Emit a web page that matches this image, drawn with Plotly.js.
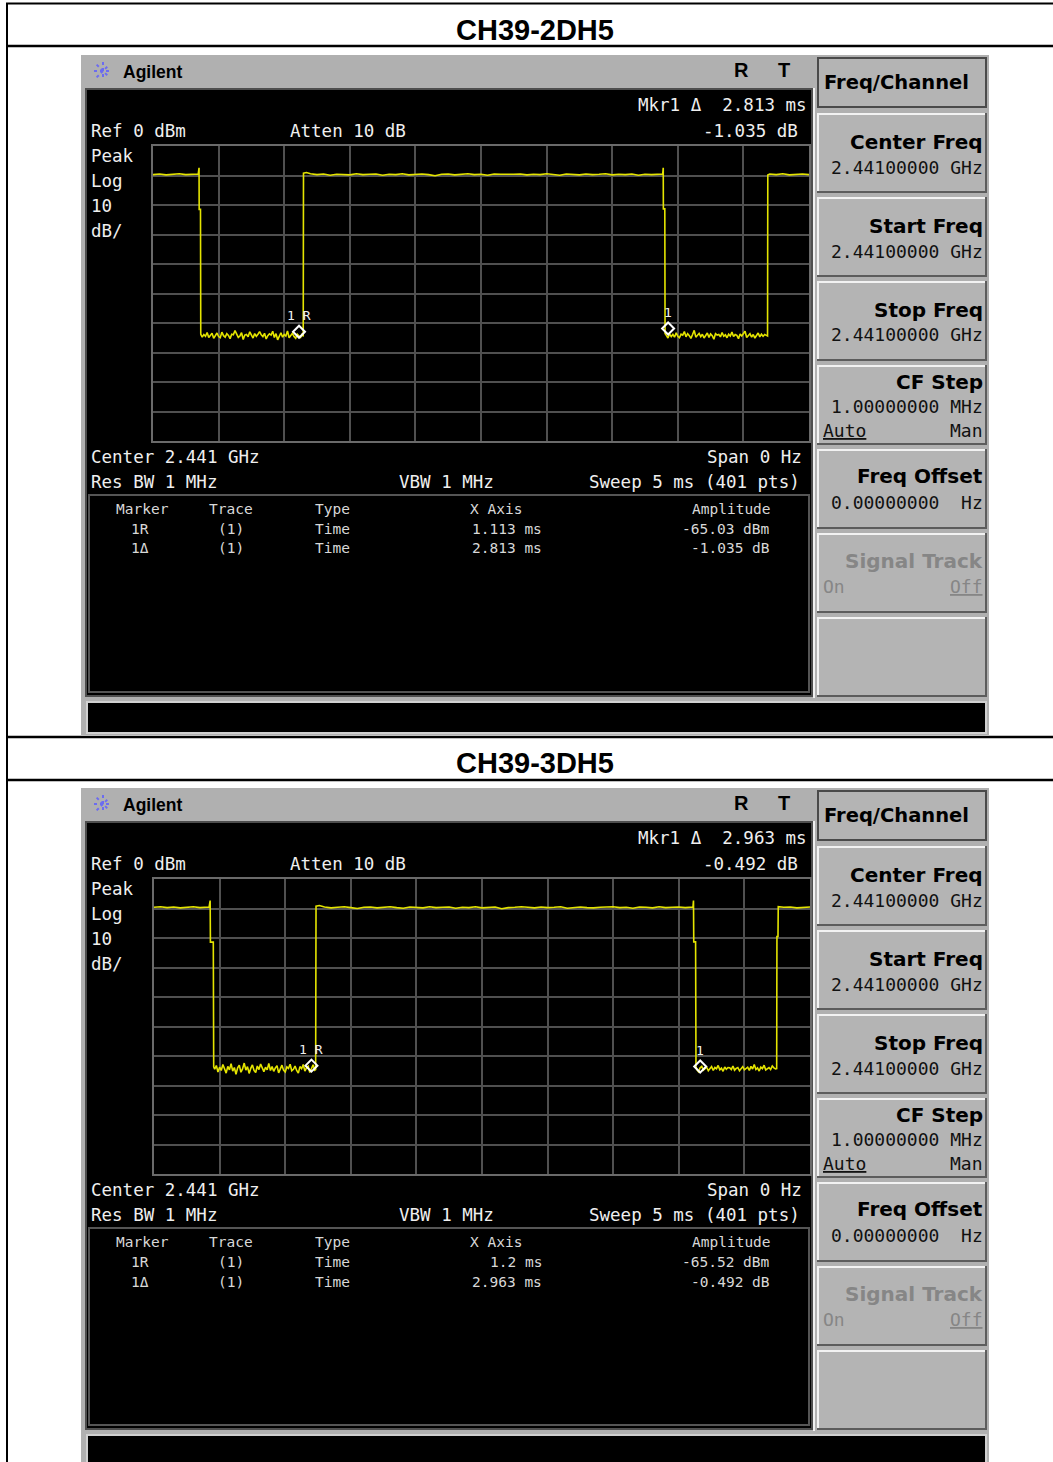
<!DOCTYPE html>
<html><head><meta charset="utf-8">
<script src="https://cdn.plot.ly/plotly-3.0.1.min.js"></script>
<style>html,body{margin:0;padding:0;background:#fff;}#chart{width:1053px;height:1462px;}</style>
</head><body><div id="chart"></div>
<script>
// ================= DATA =================
const titles = ['CH39-2DH5', 'CH39-3DH5'];
const xRangeMs = [0, 5];          // zero span, sweep 5 ms
const yRangeDbm = [-100, 0];      // ref 0 dBm, 10 dB/div
const xDtick = 0.5, yDtick = 10;

// ---- CH39-2DH5 trace: segments [start ms, end ms, step ms] + levels read (dBm)
const seg2 = [[0, 0.30, 0.05], [0.375, 1.1375, 0.0125], [1.2, 3.85, 0.05], [3.9125, 4.675, 0.0125], [4.70, 5.0, 0.05]];
const hi1_2 = [-9.7,-9.5,-9.8,-9.6,-9.4,-9.7,-9.5];
const lo1_2 = [-64.8,-63.9,-64.5,-63.2,-64.9,-64.1,-63.5,-65.2,-64.0,-63.4,
  -64.6,-65.0,-63.1,-64.3,-64.8,-63.6,-64.2,-65.3,-63.8,-64.0,
  -62.6,-63.7,-64.9,-64.4,-63.3,-65.6,-64.1,-63.9,-64.7,-63.0,
  -64.2,-65.1,-63.6,-64.5,-63.8,-62.9,-64.0,-64.6,-63.5,-65.4,
  -64.3,-63.7,-64.1,-62.8,-64.9,-63.6,-65.7,-64.2,-63.3,-64.8,
  -63.9,-64.4,-62.7,-65.0,-64.1,-63.5,-64.6,-65.2,-63.8,-64.3,
  -64.9,-63.6];
const hi2_2 = [-9.4,-9.7,-9.5,-9.9,-9.6,-9.6,-9.8,-9.4,-9.7,-9.6,
  -9.5,-9.9,-9.6,-9.7,-9.4,-9.8,-9.6,-9.5,-9.7,-10.1,
  -9.6,-9.5,-9.8,-9.6,-9.4,-9.7,-9.6,-9.9,-9.5,-9.6,
  -9.7,-9.6,-9.5,-9.8,-9.6,-9.7,-9.4,-9.6,-9.9,-9.5,
  -9.6,-9.8,-9.5,-9.7,-9.6,-9.4,-9.8,-9.6,-9.7,-9.5,
  -9.9,-9.6,-9.7,-9.5];
const lo2_2 = [-64.2,-65.1,-63.7,-64.6,-63.9,-64.8,-63.3,-64.5,-65.0,-63.8,
  -64.1,-62.9,-64.7,-63.6,-64.3,-65.2,-63.9,-62.5,-64.8,-64.0,
  -63.5,-64.6,-63.8,-65.1,-64.2,-63.4,-64.9,-63.7,-64.3,-65.5,
  -63.6,-64.1,-63.9,-64.7,-63.2,-64.5,-64.0,-65.0,-63.8,-64.4,
  -63.1,-64.6,-63.9,-64.2,-65.3,-63.7,-64.4,-63.5,-62.8,-64.9,
  -64.1,-63.6,-64.8,-63.9,-65.1,-64.3,-63.4,-64.7,-63.8,-64.5,
  -63.9,-64.2];
const hi3_2 = [-9.5,-9.7,-9.4,-9.8,-9.6,-9.5,-9.7];
const edgeT_2 = [0.33,0.345,0.351,0.352,0.362,0.364,1.145,1.147,1.17,3.87,3.885,3.889,3.890,3.901,3.903,4.684,4.686];
const edgeP_2 = [-9.6,-9.5,-7.4,-21.5,-21.5,-63.8,-64.6,-9.2,-9.0,-9.6,-9.5,-7.4,-21.3,-21.3,-63.6,-64.4,-9.8];
const mkT_2 = [1.113, 3.926];
const mkP_2 = [-65.0, -63.9];
const mkLbl_2 = ['1 R', '1'];

// ---- CH39-3DH5 trace
const seg3 = [[0, 0.40, 0.05], [0.4625, 1.225, 0.0125], [1.30, 4.05, 0.05], [4.1375, 4.7375, 0.0125], [4.80, 5.0, 0.05]];
const hi1_3 = [-9.6,-9.4,-9.7,-9.5,-9.8,-9.6,-9.4,-9.7,-9.5];
const lo1_3 = [-64.5,-63.2,-65.4,-63.8,-64.9,-62.9,-64.3,-65.8,-63.5,-64.7,
  -62.6,-65.1,-63.9,-66.2,-64.0,-63.1,-65.5,-64.4,-62.4,-64.8,
  -63.6,-65.9,-64.2,-63.0,-64.9,-65.6,-63.4,-64.6,-62.7,-64.1,
  -65.3,-63.8,-64.7,-62.5,-64.9,-63.6,-65.2,-64.0,-63.3,-65.7,
  -64.4,-63.1,-64.8,-65.4,-63.7,-64.2,-62.8,-65.0,-64.5,-63.4,
  -64.9,-65.8,-63.6,-64.3,-62.9,-65.1,-64.0,-63.5,-65.6,-64.2,
  -63.0,-64.8];
const hi2_3 = [-9.5,-9.8,-9.6,-9.4,-9.7,-10.0,-9.6,-9.5,-9.8,-9.6,
  -9.4,-9.7,-9.9,-9.5,-9.6,-9.8,-9.4,-9.7,-9.6,-9.5,
  -9.9,-9.6,-9.7,-9.4,-9.8,-9.6,-9.5,-10.1,-9.7,-9.6,
  -9.4,-9.6,-9.8,-9.5,-9.7,-9.6,-9.4,-9.9,-9.6,-9.5,
  -9.7,-9.8,-9.6,-9.5,-9.4,-9.7,-9.6,-9.9,-9.5,-9.6,
  -9.8,-9.4,-9.7,-9.6,-9.5,-9.7];
const lo2_3 = [-64.6,-65.3,-64.0,-63.5,-64.8,-64.2,-63.8,-65.0,-64.4,-63.6,
  -64.9,-63.9,-64.3,-63.2,-64.7,-64.1,-65.2,-63.7,-64.5,-63.9,
  -64.0,-64.6,-63.4,-64.8,-64.2,-63.9,-65.0,-64.3,-63.6,-64.7,
  -64.1,-63.8,-64.9,-63.5,-64.4,-62.9,-64.6,-64.0,-65.1,-63.8,
  -64.3,-63.1,-64.7,-64.2,-63.9,-64.6,-63.4,-64.0,-64.4];
const hi3_3 = [-9.6,-9.5,-9.8,-9.6,-9.5];
const edgeT_3 = [0.42,0.428,0.430,0.452,0.455,1.232,1.235,1.26,4.08,4.108,4.112,4.114,4.128,4.131,4.746,4.748,4.756,4.758];
const edgeP_3 = [-9.5,-7.3,-21.4,-21.4,-63.7,-64.6,-9.2,-9.0,-9.6,-9.5,-7.3,-21.3,-21.3,-63.6,-64.3,-19.5,-19.5,-9.4];
const mkT_3 = [1.2, 4.163];
const mkP_3 = [-65.3, -65.6];
const mkLbl_3 = ['1 R', '1'];

// ---- screen texts
const mkrReadout = ['Mkr1 Δ\u00a0\u00a02.813 ms', 'Mkr1 Δ\u00a0\u00a02.963 ms'];
const mkrDelta = ['-1.035 dB', '-0.492 dB'];
const leftLabels = ['Peak', 'Log', '10', 'dB/'];
const tableHeader = ['Marker', 'Trace', 'Type', 'X Axis', 'Amplitude'];
const rows2 = [['1R','(1)','Time','1.113 ms','-65.03 dBm'], ['1Δ','(1)','Time','2.813 ms','-1.035 dB']];
const rows3 = [['1R','(1)','Time','1.2 ms','-65.52 dBm'], ['1Δ','(1)','Time','2.963 ms','-0.492 dB']];
const softLabels = ['Center Freq', 'Start Freq', 'Stop Freq', 'CF Step', 'Freq Offset', 'Signal Track', ''];
const softValues = ['2.44100000 GHz', '2.44100000 GHz', '2.44100000 GHz', '1.00000000 MHz', '0.00000000\u00a0\u00a0Hz', '', ''];

// ================= BUILD =================
const W = 1053, H = 1462;
const PX = x => x / W, PY = y => 1 - y / H;
const MONO = 'DejaVu Sans Mono, monospace';
const SANS = 'DejaVu Sans, sans-serif';
const ARIAL = 'Liberation Sans, Arial, sans-serif';
const shapes = [], annotations = [];

function rect(x0, y0, x1, y1, fill, line, lw) {
  shapes.push({type:'rect', xref:'paper', yref:'paper', x0:PX(x0), x1:PX(x1), y0:PY(y1), y1:PY(y0),
    fillcolor: fill || 'rgba(0,0,0,0)', line: line ? {color:line, width:lw||1} : {width:0}, layer:'below'});
}
function seg(x0, y0, x1, y1, color, w, dash) {
  shapes.push({type:'line', xref:'paper', yref:'paper', x0:PX(x0), x1:PX(x1), y0:PY(y0), y1:PY(y1),
    line:{color, width:w, dash:dash || 'solid'}, layer:'below'});
}
function hline(x0, x1, y, color, w) { seg(x0, y, x1, y, color, w); }
function vline(x, y0, y1, color, w) { seg(x, y0, x, y1, color, w); }
function text(x, y, t, o) {
  o = o || {};
  annotations.push({xref:'paper', yref:'paper', x:PX(x), y:PY(y), text:t, showarrow:false,
    xanchor:o.a || 'left', yanchor:'middle', borderpad:0,
    font:{family:o.f || MONO, size:o.s || 17.5, color:o.c || '#efefef'}});
}
function button(x0, y0, x1, y1) {
  rect(x0, y0, x1, y1, '#b4b4b4');
  hline(x0, x1, y0 + 1, '#f2f2f2', 2);
  vline(x0 + 1, y0, y1, '#f2f2f2', 2);
  hline(x0, x1, y1 - 1, '#5c5c5c', 2);
  vline(x1 - 1, y0, y1, '#5c5c5c', 2);
}
function logo(cx, cy) {
  const r = 9, c = '#6c6cf0';
  [[1,0],[0,1],[0.7071,0.7071],[0.7071,-0.7071]].forEach(([dx, dy]) =>
    seg(cx - r*dx, cy - r*dy, cx + r*dx, cy + r*dy, c, 2, 'dot'));
}

function buildTrace(segs, vals, et, ep) {
  const pts = [];
  segs.forEach((s, k) => {
    const [t0, t1, dt] = s;
    vals[k].forEach((v, i) => { const t = +(t0 + i * dt).toFixed(4); if (t <= t1 + 1e-9) pts.push([t, v]); });
  });
  et.forEach((t, i) => pts.push([t, ep[i]]));
  pts.sort((a, b) => a[0] - b[0]);
  return {x: pts.map(p => p[0]), y: pts.map(p => p[1])};
}

// table lines
vline(7, 3, 1462, '#000', 2);
hline(6, 1053, 3.5, '#000', 2);
hline(6, 1053, 46, '#000', 2.5);
hline(6, 1053, 737, '#000', 2.5);
hline(6, 1053, 780, '#000', 2.5);
text(535, 30, '<b>' + titles[0] + '</b>', {a:'center', f:ARIAL, s:29, c:'#000'});
text(535, 763, '<b>' + titles[1] + '</b>', {a:'center', f:ARIAL, s:29, c:'#000'});

function panel(dy, k, rows) {
  const Y = y => y + dy;
  rect(81, Y(55), 989, Math.min(Y(735), 1470), '#b0b0b0');
  // screen
  rect(85, Y(88), 813, Y(697), '#4e4e4e');
  rect(87, Y(90), 811, Y(695), '#000');
  vline(814, Y(88), Y(698), '#f0f0f0', 2);
  rect(89, Y(495), 809, Y(692), null, '#555', 2);
  // bottom message bar
  rect(87, Y(702), 986, Y(733), '#000', '#d0d0d0', 2);
  // header
  logo(103, Y(71));
  text(122, Y(72), '<b>Agilent</b>', {f:ARIAL, s:17.5, c:'#000'});
  text(741, Y(70), '<b>R</b>', {a:'center', f:ARIAL, s:20, c:'#000'});
  text(784, Y(70), '<b>T</b>', {a:'center', f:ARIAL, s:20, c:'#000'});
  // softkeys
  rect(818, Y(58), 986, Y(107), '#b4b4b4', '#4a4a4a', 2);
  text(823, Y(82), '<b>Freq/Channel</b>', {f:SANS, s:19.5, c:'#000'});
  const tops = [113, 197, 281, 365, 449, 533, 617];
  tops.forEach((t, i) => {
    button(817, Y(t), 987, Y(t + 80));
    if (!softLabels[i]) return;
    const gray = softLabels[i] === 'Signal Track';
    const col = gray ? '#868686' : '#000';
    let ly = t + 29, vy = t + 54;
    if (softLabels[i] === 'CF Step') { ly = t + 17; vy = t + 41; }
    if (softLabels[i] === 'Freq Offset') { ly = t + 27; vy = t + 53; }
    if (gray) { ly = t + 28; }
    text(984, Y(ly), '<b>' + softLabels[i] + '</b>', {a:'right', f:SANS, s:20, c:col});
    if (softValues[i]) text(984, Y(vy), softValues[i], {a:'right', s:18, c:'#111'});
    if (softLabels[i] === 'CF Step') {
      text(822, Y(t + 65), '<u>Auto</u>', {s:18, c:'#111'});
      text(984, Y(t + 65), 'Man', {a:'right', s:18, c:'#111'});
    }
    if (gray) {
      text(822, Y(t + 53), 'On', {s:18, c:'#868686'});
      text(984, Y(t + 53), '<u>Off</u>', {a:'right', s:18, c:'#868686'});
    }
  });
  // screen texts
  text(808, Y(105), mkrReadout[k], {a:'right'});
  text(799, Y(131), mkrDelta[k], {a:'right'});
  text(90, Y(131), 'Ref 0 dBm');
  text(289, Y(131), 'Atten 10 dB');
  leftLabels.forEach((s, i) => text(90, Y(156 + 25 * i), s));
  text(90, Y(457), 'Center 2.441 GHz');
  text(803, Y(457), 'Span 0 Hz', {a:'right'});
  text(90, Y(482), 'Res BW 1 MHz');
  text(398, Y(482), 'VBW 1 MHz');
  text(801, Y(482), 'Sweep 5 ms (401 pts)', {a:'right'});
  const hc = [142, 231, 332, 496, 731];
  const ts = 14.5, tc = '#d8d8d8';
  tableHeader.forEach((s, i) => text(hc[i], Y(509), s, {a:'center', s:ts, c:tc}));
  rows.forEach((r, j) => {
    const yy = Y(529 + 19.5 * j);
    text(140, yy, r[0], {a:'center', s:ts, c:tc});
    text(231, yy, r[1], {a:'center', s:ts, c:tc});
    text(332, yy, r[2], {a:'center', s:ts, c:tc});
    text(543, yy, r[3], {a:'right', s:ts, c:tc});
    text(771, yy, r[4], {a:'right', s:ts, c:tc});
  });
}
panel(0, 0, rows2);
panel(733, 1, rows3);

// markers (diamond + label) in data coordinates
function markers(xa, ya, ts, ps, lbls) {
  ts.forEach((t, i) => {
    shapes.push({type:'path', xref:xa, yref:ya, xsizemode:'pixel', ysizemode:'pixel', xanchor:t, yanchor:ps[i],
      path:'M0,0 L6,6 L0,12 L-6,6 Z', line:{color:'#ffffff', width:2}, fillcolor:'rgba(0,0,0,0)', layer:'above'});
    annotations.push({xref:xa, yref:ya, x:t, y:ps[i], yshift:22, text:lbls[i], showarrow:false,
      xanchor:'center', yanchor:'middle', font:{family:MONO, size:13, color:'#f0f0f0'}});
  });
}
markers('x', 'y', mkT_2, mkP_2, mkLbl_2);
markers('x2', 'y2', mkT_3, mkP_3, mkLbl_3);

const tr2 = buildTrace(seg2, [hi1_2, lo1_2, hi2_2, lo2_2, hi3_2], edgeT_2, edgeP_2);
const tr3 = buildTrace(seg3, [hi1_3, lo1_3, hi2_3, lo2_3, hi3_3], edgeT_3, edgeP_3);
const lineStyle = {color:'#e4e400', width:1.6};
const data = [
  {x:tr2.x, y:tr2.y, xaxis:'x', yaxis:'y', mode:'lines', line:lineStyle, hoverinfo:'skip'},
  {x:tr3.x, y:tr3.y, xaxis:'x2', yaxis:'y2', mode:'lines', line:lineStyle, hoverinfo:'skip'}
];
function xax(x0, x1, anchor) {
  return {domain:[PX(x0), PX(x1)], anchor, range:xRangeMs, dtick:xDtick, tick0:0, showgrid:true,
    gridcolor:'#505050', gridwidth:2, showticklabels:false, ticks:'', zeroline:false,
    showline:true, mirror:true, linecolor:'#6a6a6a', linewidth:2, fixedrange:true};
}
function yax(y0, y1, anchor) {
  return {domain:[PY(y1), PY(y0)], anchor, range:yRangeDbm, dtick:yDtick, tick0:0, showgrid:true,
    gridcolor:'#505050', gridwidth:2, showticklabels:false, ticks:'', zeroline:false,
    showline:true, mirror:true, linecolor:'#6a6a6a', linewidth:2, fixedrange:true};
}
const layout = {
  width:W, height:H, margin:{l:0, r:0, t:0, b:0}, paper_bgcolor:'#ffffff', plot_bgcolor:'#000000',
  showlegend:false, hovermode:false,
  xaxis:xax(153, 809, 'y'), yaxis:yax(146, 441, 'x'),
  xaxis2:xax(154, 810, 'y2'), yaxis2:yax(879, 1174, 'x2'),
  shapes, annotations
};
Plotly.newPlot('chart', data, layout, {staticPlot:true, displayModeBar:false});
</script>
</body></html>
